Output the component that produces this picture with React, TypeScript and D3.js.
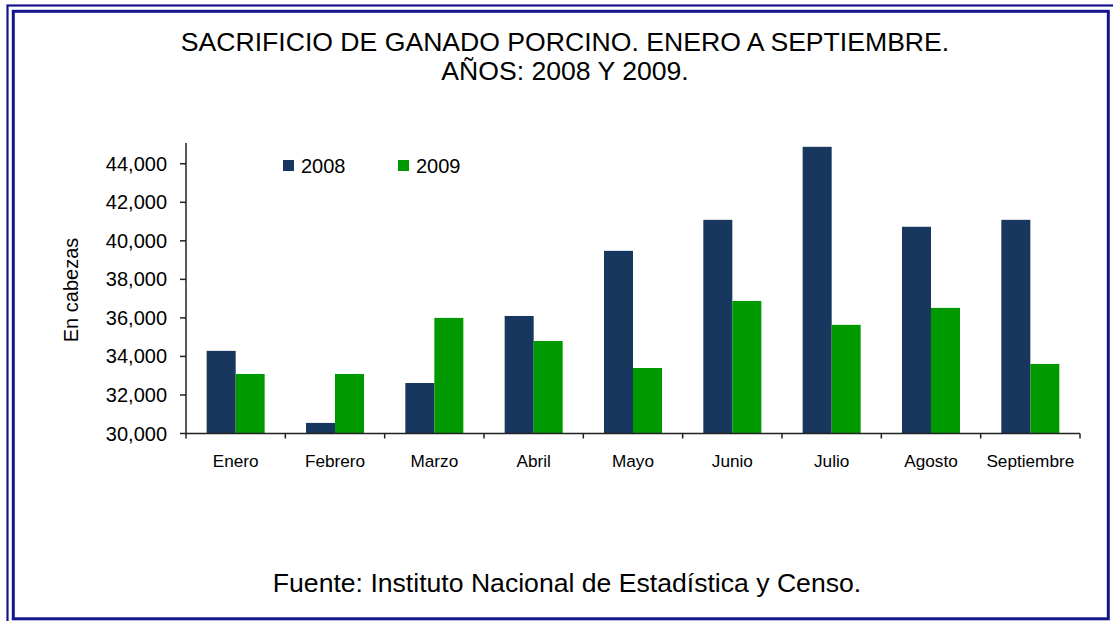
import React from "react";
import * as d3 from "d3";

const months = ["Enero", "Febrero", "Marzo", "Abril", "Mayo", "Junio", "Julio", "Agosto", "Septiembre"];
const series = ["2008", "2009"];
const values2008 = [34290, 30550, 32620, 36100, 39480, 41090, 44880, 40730, 41090];
const values2009 = [33090, 33090, 36000, 34800, 33400, 36880, 35640, 36520, 33610];
const yTicks = [30000, 32000, 34000, 36000, 38000, 40000, 42000, 44000];
const colors = ["#17375E", "#009900"];
const titleLines = ["SACRIFICIO DE GANADO PORCINO. ENERO A SEPTIEMBRE.", "AÑOS: 2008 Y 2009."];
const footer = "Fuente: Instituto Nacional de Estadística y Censo.";
const yLabel = "En cabezas";

const W = 1113;
const H = 621;
const FONT = "Arial, 'Liberation Sans', sans-serif";

export default function App() {
  const left = 186, right = 1080, bottom = 433.5, top = 144.5;
  const x0 = d3.scaleBand<string>().domain(months).range([left, right]).padding(0);
  const x1 = d3.scaleBand<string>().domain(series).range([0, x0.bandwidth()]).paddingInner(0).paddingOuter(0.7126);
  const y = d3.scaleLinear().domain([30000, 45000]).range([bottom, top]);
  const fmt = d3.format(",");
  const data = [values2008, values2009];

  return (
    <svg width={W} height={H} style={{ position: "absolute", left: 0, top: 0, background: "#fff" }}>
      <rect x={0} y={0} width={W} height={H} fill="#fff" />
      {/* double border */}
      <rect x={7.5} y={5.5} width={W + 10} height={H + 10} fill="none" stroke="#14148c" strokeWidth={2.2} />
      <rect x={13.3} y={11.3} width={1095} height={607.5} fill="none" stroke="#14148c" strokeWidth={3} />

      {/* title */}
      <text x={565} y={51} textAnchor="middle" fontFamily={FONT} fontSize={26.6} fill="#000">{titleLines[0]}</text>
      <text x={565} y={80} textAnchor="middle" fontFamily={FONT} fontSize={26.6} fill="#000">{titleLines[1]}</text>

      {/* bars */}
      {months.map((m, i) => (
        <g key={m}>
          {series.map((s, j) => (
            <rect
              key={s}
              x={(x0(m) as number) + (x1(s) as number)}
              y={y(data[j][i])}
              width={x1.bandwidth()}
              height={y(30000) - y(data[j][i])}
              fill={colors[j]}
            />
          ))}
        </g>
      ))}

      {/* y axis */}
      <line x1={left} x2={left} y1={143} y2={bottom} stroke="#222" strokeWidth={1.5} />
      {yTicks.map((t) => (
        <g key={t}>
          <line x1={left - 6} x2={left} y1={y(t)} y2={y(t)} stroke="#222" strokeWidth={1.5} />
          <text x={167} y={y(t) + 7} textAnchor="end" fontFamily={FONT} fontSize={20} fill="#000">{fmt(t)}</text>
        </g>
      ))}

      {/* x axis */}
      <line x1={left} x2={right} y1={bottom} y2={bottom} stroke="#222" strokeWidth={1.5} />
      {[...months.map((m) => x0(m) as number), right].map((px, i) => (
        <line key={i} x1={px} x2={px} y1={bottom} y2={bottom + 5} stroke="#222" strokeWidth={1.5} />
      ))}
      {months.map((m) => (
        <text key={m} x={(x0(m) as number) + x0.bandwidth() / 2} y={467} textAnchor="middle" fontFamily={FONT} fontSize={17.2} fill="#000">{m}</text>
      ))}

      {/* y label */}
      <text transform={`translate(78,290) rotate(-90)`} textAnchor="middle" fontFamily={FONT} fontSize={20} fill="#000">{yLabel}</text>

      {/* legend */}
      {series.map((s, j) => {
        const lx = [283, 398][j];
        return (
          <g key={s}>
            <rect x={lx} y={160} width={11} height={11} fill={colors[j]} />
            <text x={lx + 18} y={172.5} fontFamily={FONT} fontSize={20} fill="#000">{s}</text>
          </g>
        );
      })}

      {/* footer */}
      <text x={567} y={592} textAnchor="middle" fontFamily={FONT} fontSize={26.6} fill="#000">{footer}</text>
    </svg>
  );
}
